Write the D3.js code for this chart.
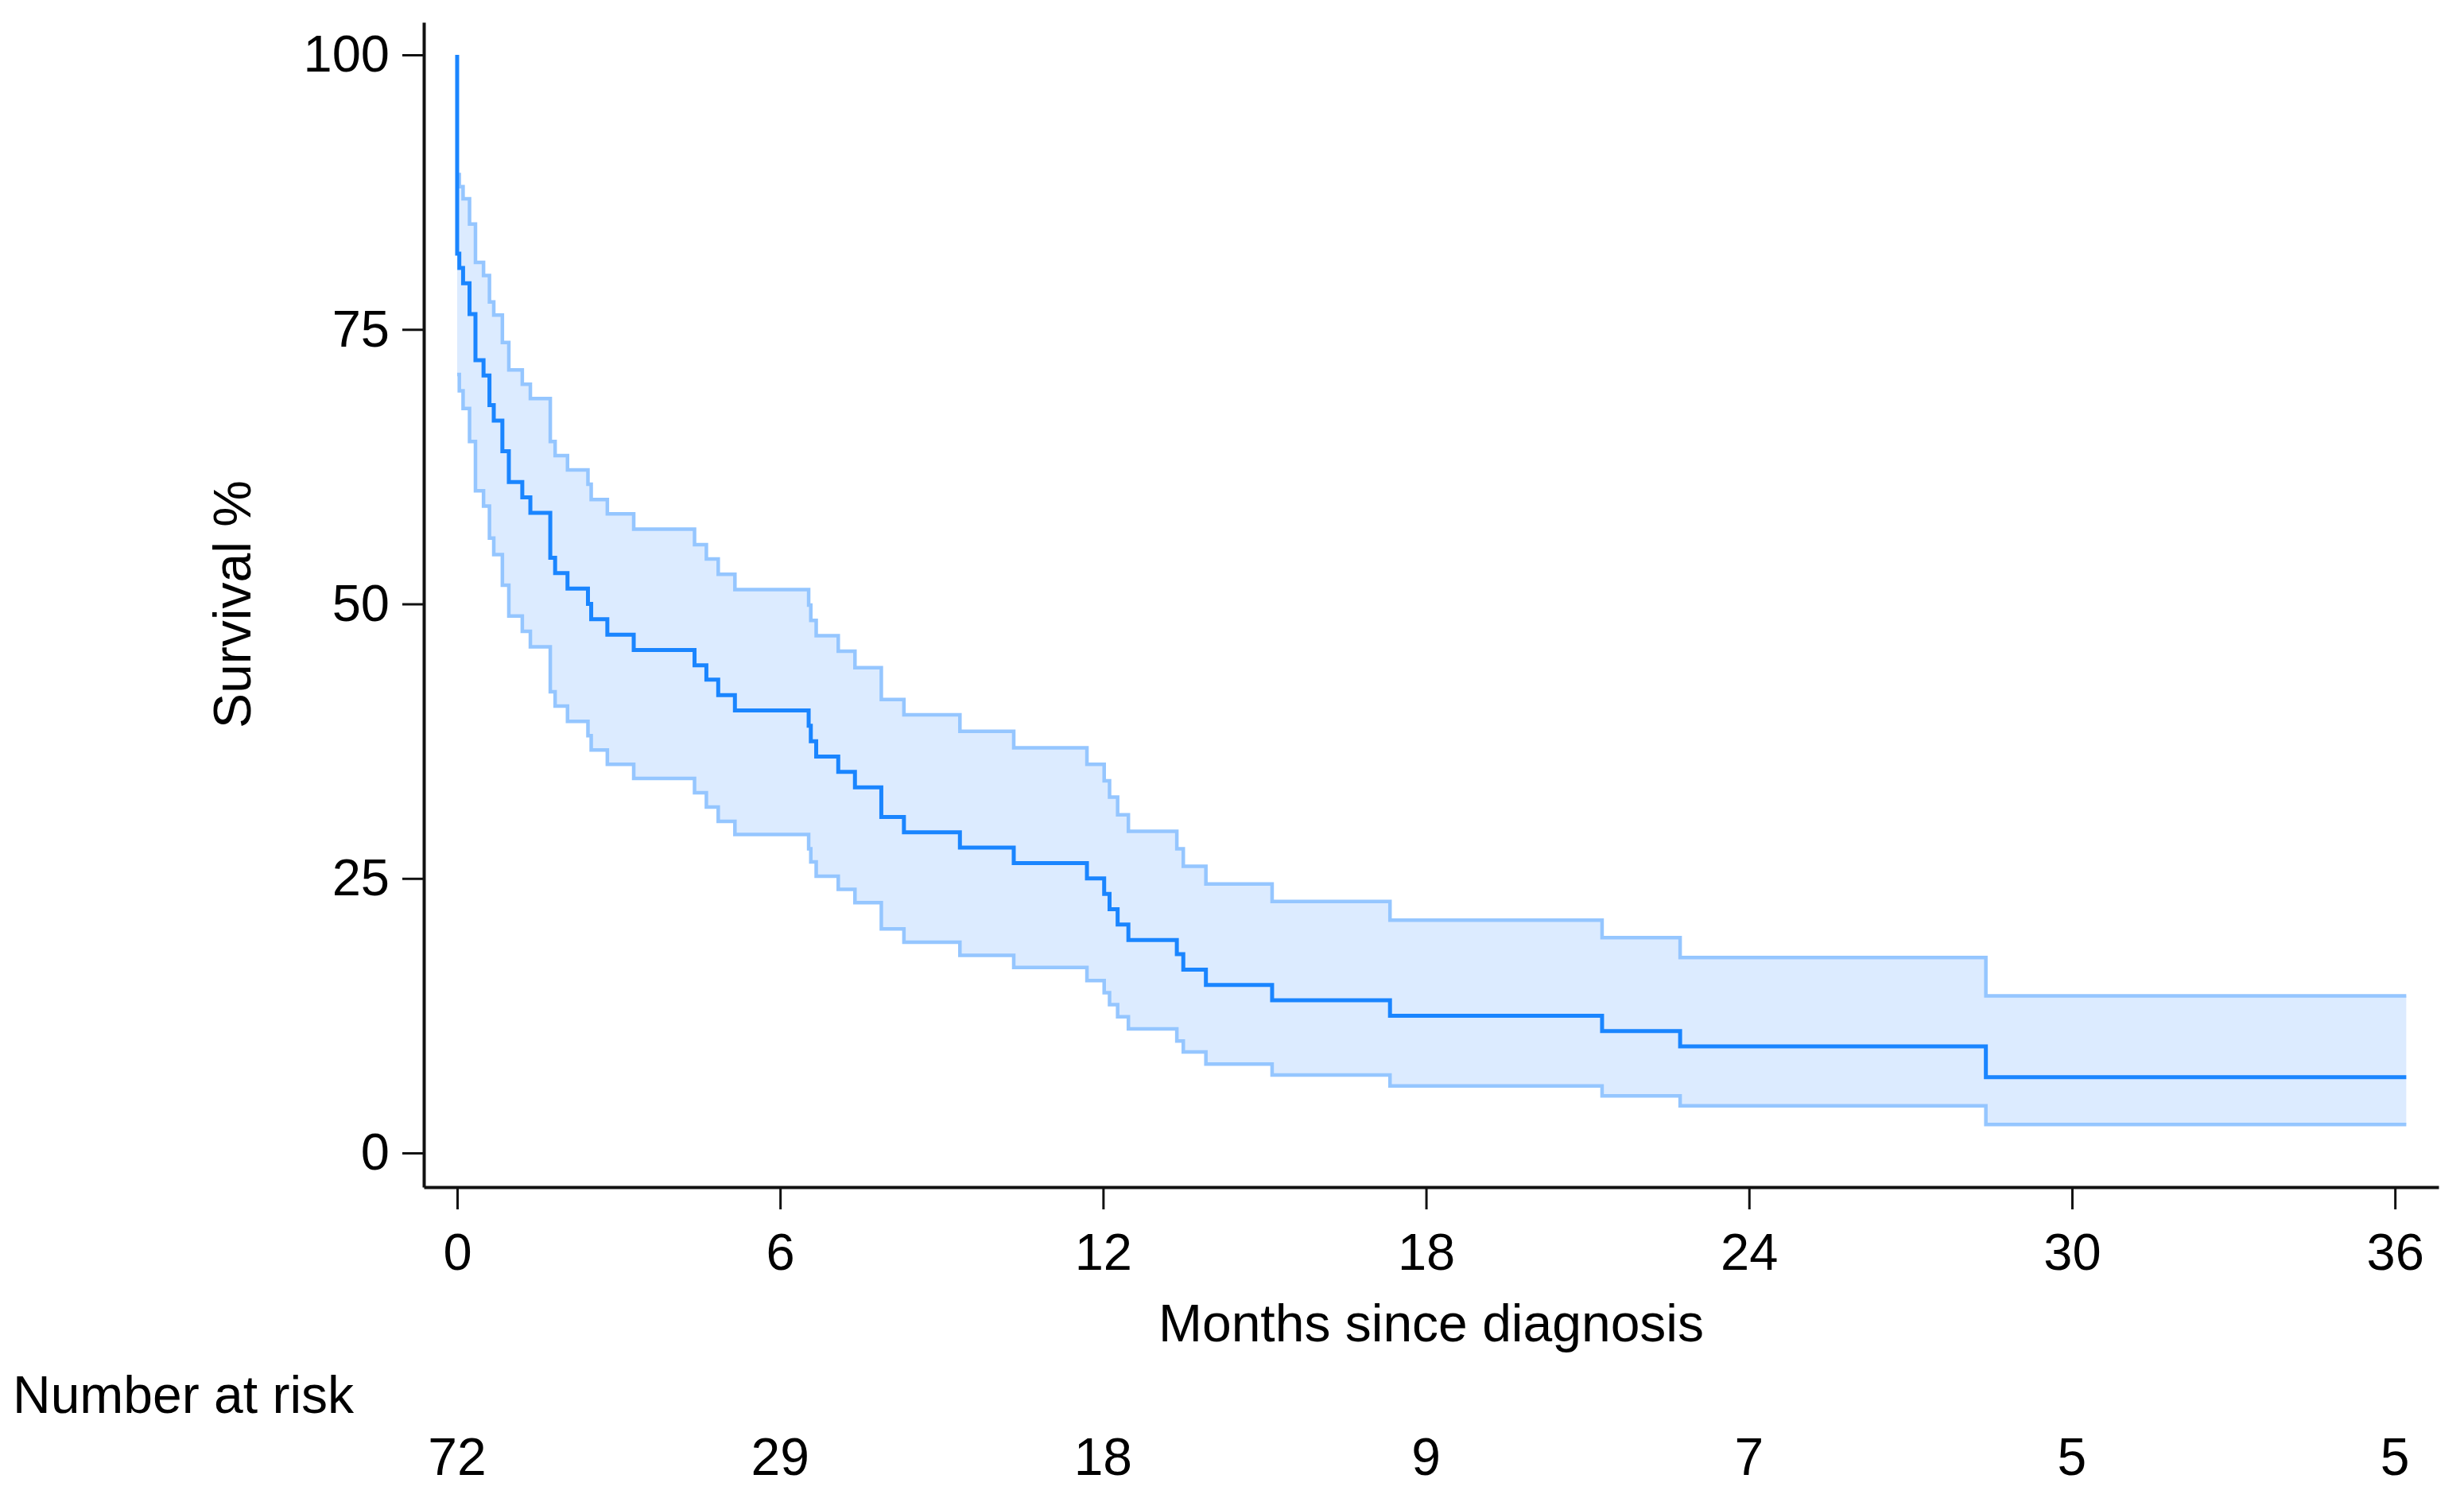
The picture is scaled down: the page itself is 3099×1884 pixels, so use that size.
<!DOCTYPE html>
<html>
<head>
<meta charset="utf-8">
<script src="https://cdn.jsdelivr.net/npm/d3@7"></script>
<style>
  html, body { margin: 0; padding: 0; background: #ffffff; }
  svg { display: block; }
  text { font-family: "Liberation Sans", Arial, sans-serif; fill: #000; }
</style>
</head>
<body>
<svg id="chart" width="3099" height="1884"></svg>
<script>
// Event times (months) and Kaplan-Meier survival (%) just after each event
const eventTimes = [0, 0.04, 0.11, 0.23, 0.34, 0.49, 0.60, 0.68, 0.84, 0.96,
  1.21, 1.36, 1.73, 1.82, 2.05, 2.43, 2.49, 2.79, 3.28, 4.41,
  4.63, 4.85, 5.16, 6.53, 6.57, 6.67, 7.08, 7.39, 7.88, 8.30,
  9.34, 10.34, 11.70, 12.02, 12.12, 12.27, 12.47, 13.37, 13.49, 13.91,
  15.14, 17.33, 21.27, 22.72, 28.40];
const survival = [81.9, 80.6, 79.2, 76.4, 72.2, 70.8, 68.1, 66.7, 63.9, 61.1,
  59.7, 58.3, 54.2, 52.8, 51.4, 50.0, 48.6, 47.2, 45.8, 44.4,
  43.1, 41.7, 40.3, 38.9, 37.5, 36.1, 34.7, 33.3, 30.6, 29.2,
  27.8, 26.4, 25.0, 23.6, 22.2, 20.8, 19.4, 18.1, 16.7, 15.3,
  13.9, 12.5, 11.1, 9.7, 6.9];
const ciLower = [70.9, 69.4, 67.8, 64.8, 60.3, 58.9, 56.0, 54.5, 51.7, 48.9,
  47.5, 46.1, 42.0, 40.7, 39.3, 38.0, 36.7, 35.4, 34.1, 32.8,
  31.5, 30.2, 29.0, 27.7, 26.5, 25.2, 24.0, 22.8, 20.4, 19.2,
  18.0, 16.9, 15.7, 14.6, 13.5, 12.4, 11.3, 10.2, 9.2, 8.1,
  7.1, 6.1, 5.2, 4.3, 2.6];
const ciUpper = [89.1, 88.0, 86.9, 84.6, 81.1, 79.9, 77.5, 76.3, 73.8, 71.3,
  70.0, 68.7, 64.8, 63.5, 62.2, 60.9, 59.5, 58.2, 56.8, 55.4,
  54.1, 52.7, 51.3, 49.9, 48.5, 47.1, 45.7, 44.2, 41.3, 39.9,
  38.4, 36.9, 35.4, 33.9, 32.4, 30.8, 29.3, 27.7, 26.1, 24.5,
  22.9, 21.2, 19.6, 17.8, 14.3];
const startSurvival = 100;
const lastFollowUp = 36.21;

const xTicks = [0, 6, 12, 18, 24, 30, 36];
const yTicks = [0, 25, 50, 75, 100];
const atRisk = [72, 29, 18, 9, 7, 5, 5];

const xTitle = "Months since diagnosis";
const yTitle = "Survival %";
const riskTitle = "Number at risk";

const svg = d3.select("#chart");

const x = d3.scaleLinear().domain([-0.62, 36.81]).range([533, 3067]);
const y = d3.scaleLinear().domain([-3.11, 102.97]).range([1493, 28]);

// Build step data
const ciData = eventTimes.map((t, i) => ({t, lo: ciLower[i], hi: ciUpper[i]}));
ciData.push({t: lastFollowUp, lo: ciLower[ciLower.length - 1], hi: ciUpper[ciUpper.length - 1]});

const kmData = [{t: 0, s: startSurvival}].concat(eventTimes.map((t, i) => ({t, s: survival[i]})));
kmData.push({t: lastFollowUp, s: survival[survival.length - 1]});

// CI area
svg.append("path")
  .datum(ciData)
  .attr("fill", "#dcebff")
  .attr("stroke", "none")
  .attr("d", d3.area().curve(d3.curveStepAfter)
    .x(d => x(d.t)).y0(d => y(d.lo)).y1(d => y(d.hi)));

const ciLine = key => d3.line().curve(d3.curveStepAfter).x(d => x(d.t)).y(d => y(d[key]));
["lo", "hi"].forEach(k => {
  svg.append("path")
    .datum(ciData)
    .attr("fill", "none")
    .attr("stroke", "#95c6ff")
    .attr("stroke-width", 4.5)
    .attr("d", ciLine(k));
});

// KM line
svg.append("path")
  .datum(kmData)
  .attr("fill", "none")
  .attr("stroke", "#1a85ff")
  .attr("stroke-width", 5)
  .attr("d", d3.line().curve(d3.curveStepAfter).x(d => x(d.t)).y(d => y(d.s)));

// Axes
const xAxis = svg.append("g")
  .attr("transform", "translate(0,1493)")
  .call(d3.axisBottom(x).tickValues(xTicks).tickSize(28).tickSizeOuter(0).tickPadding(30));
const yAxis = svg.append("g")
  .attr("transform", "translate(533,0)")
  .call(d3.axisLeft(y).tickValues(yTicks).tickSize(27).tickSizeOuter(0).tickPadding(16));

[xAxis, yAxis].forEach(g => {
  g.select(".domain").attr("stroke", "#111").attr("stroke-width", 4);
  g.selectAll(".tick line").attr("stroke", "#111").attr("stroke-width", 3);
  g.selectAll(".tick text").attr("font-size", 65)
    .attr("font-family", "'Liberation Sans', Arial, sans-serif").attr("fill", "#000");
});

// Titles
svg.append("text")
  .attr("x", 1800).attr("y", 1687)
  .attr("text-anchor", "middle")
  .attr("font-size", 66)
  .text(xTitle);

svg.append("text")
  .attr("transform", "translate(315,760) rotate(-90)")
  .attr("text-anchor", "middle")
  .attr("font-size", 66)
  .text(yTitle);

svg.append("text")
  .attr("x", 16).attr("y", 1777)
  .attr("font-size", 66)
  .text(riskTitle);

svg.append("g").selectAll("text")
  .data(atRisk)
  .join("text")
  .attr("x", (d, i) => x(xTicks[i]))
  .attr("y", 1855)
  .attr("text-anchor", "middle")
  .attr("font-size", 66)
  .text(d => d);
</script>
</body>
</html>
